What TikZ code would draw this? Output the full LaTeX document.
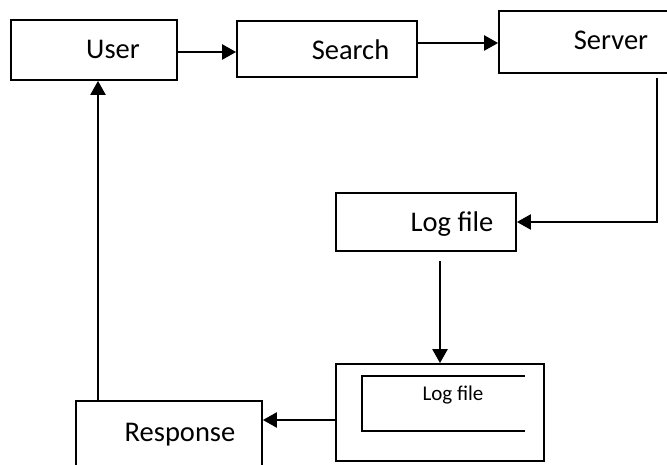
\documentclass[tikz,border=0pt]{standalone}
\usepackage{fontspec}
\setmainfont{Carlito}
\usetikzlibrary{arrows.meta}
\begin{document}
\begin{tikzpicture}[x=1pt,y=-1pt,
  box/.style={draw, line width=1.8pt, rectangle, inner sep=0pt},
  lbl/.style={anchor=base, inner sep=0pt, font=\fontsize{28.5}{34}\selectfont},
  smalllbl/.style={anchor=base, inner sep=0pt, font=\fontsize{21}{25}\selectfont},
  arr/.style={line width=2.4pt, -{Triangle[length=14pt,width=15pt]}}]
\useasboundingbox (0,0) rectangle (667,465);
% boxes
\node[box, minimum width=166pt, minimum height=60pt] (user) at (94,50) {};
\node[box, minimum width=180pt, minimum height=56pt] (search) at (327,49) {};
\node[box, minimum width=186pt, minimum height=62pt] (server) at (592,42) {};
\node[box, minimum width=180pt, minimum height=58pt] (logfile) at (426,222) {};
\node[box, minimum width=208pt, minimum height=97pt] (outer) at (440,412.5) {};
\node[box, minimum width=186pt, minimum height=79pt] (response) at (169,440.5) {};
% inner open box
\draw[line width=1.3pt] (524.6,376) -- (362,376) -- (362,431) -- (524.6,431);
% texts
\node[lbl] (usertxt) at (113,59) {User};
\node[lbl] (searchtxt) at (350.5,59.3) {Search};
\node[lbl] (servertxt) at (611,50) {Server};
\node[lbl] (logtxt) at (452,231.7) {Log file};
\node[lbl] (resptxt) at (180,441.7) {Response};
\node[smalllbl] (innertxt) at (453,400) {Log file};
% connectors
\coordinate (turn) at (657,222);
\draw[arr] ([yshift=-2pt]user.east) -- ([yshift=-2pt]user.east -| search.west);
\draw[arr] ([yshift=-1pt]server.west -| search.east) -- ([yshift=-1pt]server.west);
\draw[arr, shorten <=4pt] (server.south -| turn) -- (turn) -- (logfile.east);
\draw[arr, shorten <=9pt] (logfile.south -| outer.north) -- (outer.north);
\draw[arr] ([yshift=-7.5pt]outer.west) -- ([yshift=-7.5pt]outer.west -| response.east);
\draw[arr] ([xshift=4pt]user.south |- response.north) -- ([xshift=4pt]user.south);
\end{tikzpicture}
\end{document}
